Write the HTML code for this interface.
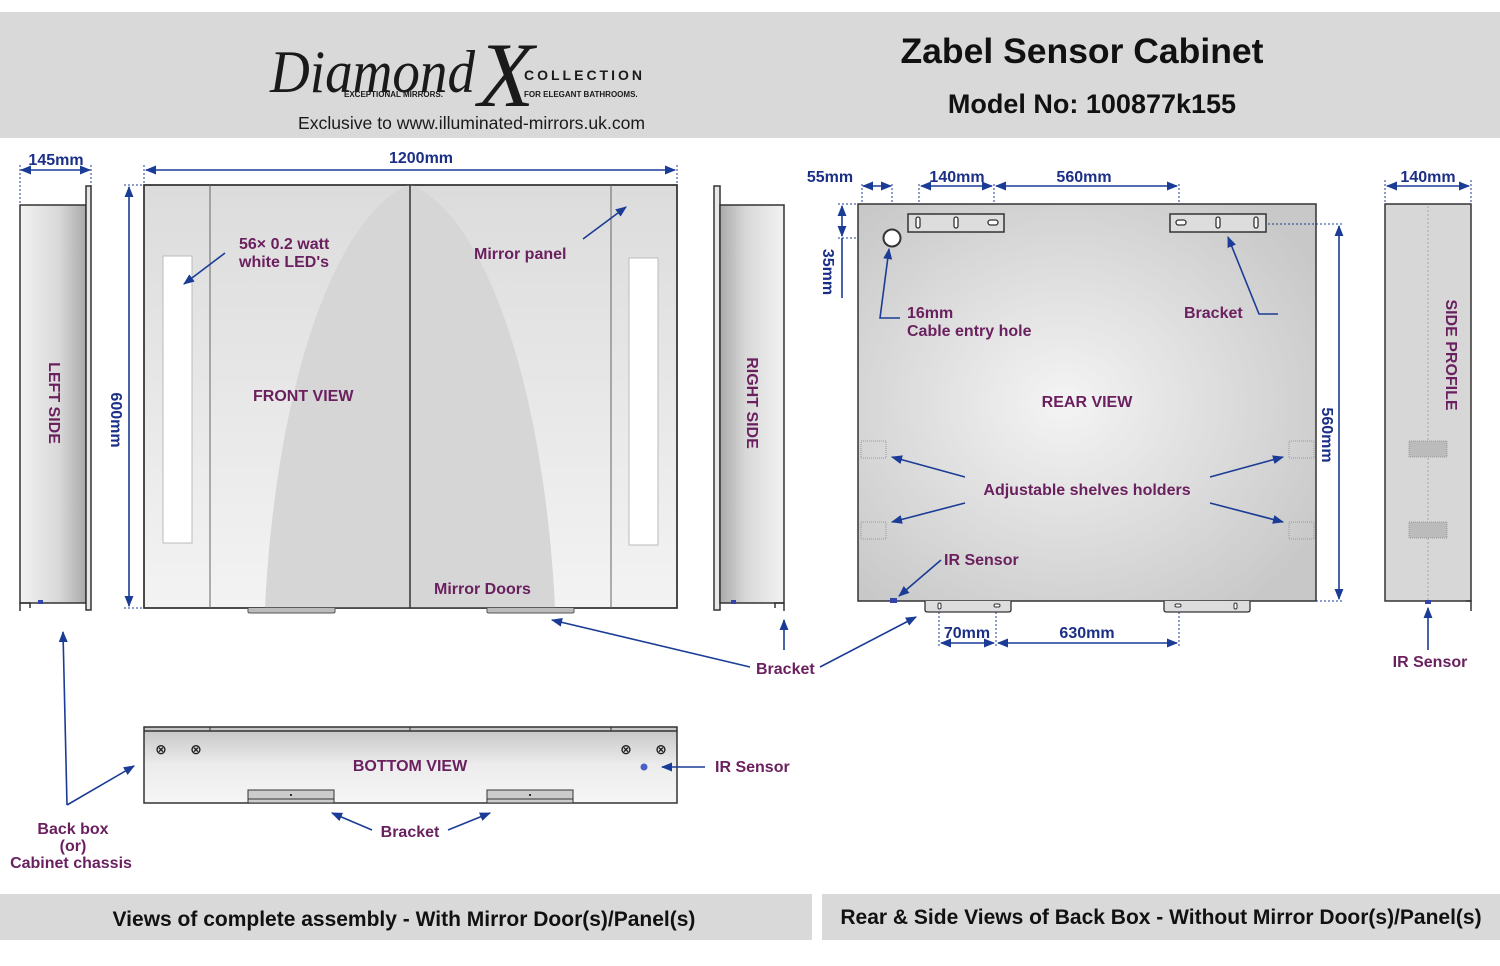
<!DOCTYPE html>
<html><head><meta charset="utf-8"><style>
html,body{margin:0;padding:0;background:#fff;width:1500px;height:966px;overflow:hidden}
svg{display:block}
.p{fill:#6a1f5e;font-family:"Liberation Sans",sans-serif;font-weight:bold;font-size:16px}
.d{fill:#1b2f86;font-family:"Liberation Sans",sans-serif;font-weight:bold;font-size:16px}
.ln{stroke:#1b3c96;stroke-width:1.6;fill:none}
.dt{stroke:#1b3c96;stroke-width:1;stroke-dasharray:2 2;fill:none}
</style></head><body>
<svg width="1500" height="966" viewBox="0 0 1500 966" xmlns="http://www.w3.org/2000/svg">
<defs>
<marker id="a" viewBox="0 0 10 10" refX="9" refY="5" markerWidth="7" markerHeight="7" orient="auto-start-reverse"><path d="M0,1 L10,5 L0,9 z" fill="#1b3c96"/></marker>
<linearGradient id="side" x1="0" x2="1"><stop offset="0" stop-color="#f2f2f2"/><stop offset="0.6" stop-color="#d8d8d8"/><stop offset="1" stop-color="#aaa"/></linearGradient>
<linearGradient id="sideR" x1="0" x2="1"><stop offset="0" stop-color="#aaa"/><stop offset="0.4" stop-color="#d8d8d8"/><stop offset="1" stop-color="#f2f2f2"/></linearGradient>
<linearGradient id="front" x1="0" y1="0" x2="0" y2="1"><stop offset="0" stop-color="#dcdcdc"/><stop offset="1" stop-color="#f3f3f3"/></linearGradient>
<radialGradient id="rear" cx="0.45" cy="0.5" r="0.65"><stop offset="0" stop-color="#f4f4f4"/><stop offset="1" stop-color="#c8c8c8"/></radialGradient>
<linearGradient id="bot" x1="0" y1="0" x2="0" y2="1"><stop offset="0" stop-color="#c4c4c4"/><stop offset="0.5" stop-color="#ececec"/><stop offset="1" stop-color="#f6f6f6"/></linearGradient>
</defs>
<!-- header -->
<rect x="0" y="12" width="1500" height="126" fill="#d9d9d9"/>
<text x="270" y="92" font-family="Liberation Serif,serif" font-style="italic" font-size="60" fill="#1a1a1a" textLength="205" lengthAdjust="spacingAndGlyphs">Diamond</text>
<text x="478" y="106" font-family="Liberation Serif,serif" font-style="italic" font-size="92" fill="#1a1a1a">X</text>
<text x="524" y="80" font-family="Liberation Sans,sans-serif" font-weight="bold" font-size="14" letter-spacing="3" fill="#1a1a1a">COLLECTION</text>
<text x="344" y="97" font-family="Liberation Sans,sans-serif" font-weight="bold" font-size="8" fill="#1a1a1a">EXCEPTIONAL MIRRORS.</text>
<text x="524" y="97" font-family="Liberation Sans,sans-serif" font-weight="bold" font-size="8" fill="#1a1a1a">FOR ELEGANT BATHROOMS.</text>
<text x="298" y="129" font-family="Liberation Sans,sans-serif" font-size="17.6" fill="#1a1a1a">Exclusive to www.illuminated-mirrors.uk.com</text>
<text x="1082" y="63" text-anchor="middle" font-family="Liberation Sans,sans-serif" font-weight="bold" font-size="35.5" fill="#111">Zabel Sensor Cabinet</text>
<text x="1092" y="113" text-anchor="middle" font-family="Liberation Sans,sans-serif" font-weight="bold" font-size="27" fill="#111">Model No: 100877k155</text>

<!-- left side -->
<line class="dt" x1="20" y1="165" x2="20" y2="205"/><line class="dt" x1="91" y1="165" x2="91" y2="186"/>
<line class="ln" x1="21" y1="170" x2="90" y2="170" marker-start="url(#a)" marker-end="url(#a)"/>
<text class="d" x="56" y="165" text-anchor="middle">145mm</text>
<rect x="20" y="205" width="66" height="398" fill="url(#side)" stroke="#333" stroke-width="1.5"/>
<rect x="86" y="186" width="5" height="424" fill="#e8e8e8" stroke="#333" stroke-width="1.5"/>
<path d="M20,603 V611 M20,603 H30 V608" stroke="#333" stroke-width="1.5" fill="none"/>
<rect x="38" y="600" width="5" height="4" fill="#3344aa"/>
<text class="p" transform="translate(49,403) rotate(90)" text-anchor="middle">LEFT SIDE</text>

<!-- front view -->
<line class="dt" x1="144" y1="165" x2="144" y2="185"/><line class="dt" x1="677" y1="165" x2="677" y2="185"/>
<line class="ln" x1="146" y1="170" x2="675" y2="170" marker-start="url(#a)" marker-end="url(#a)"/>
<text class="d" x="421" y="163" text-anchor="middle">1200mm</text>
<line class="dt" x1="124" y1="185" x2="144" y2="185"/><line class="dt" x1="124" y1="608" x2="144" y2="608"/>
<line class="ln" x1="129" y1="187" x2="129" y2="606" marker-start="url(#a)" marker-end="url(#a)"/>
<text class="d" transform="translate(111,420) rotate(90)" text-anchor="middle">600mm</text>
<rect x="144" y="185" width="533" height="423" fill="url(#front)" stroke="#333" stroke-width="1.5"/>
<path d="M265,608 C275,400 330,220 408,185 L412,185 C490,220 545,400 555,608 Z" fill="#d6d6d6"/>
<rect x="144" y="185" width="533" height="423" fill="none" stroke="#333" stroke-width="1.5"/>
<line x1="210" y1="185" x2="210" y2="608" stroke="#666" stroke-width="1"/>
<line x1="410" y1="185" x2="410" y2="608" stroke="#333" stroke-width="1.5"/>
<line x1="611" y1="185" x2="611" y2="608" stroke="#666" stroke-width="1"/>
<rect x="163" y="256" width="29" height="287" fill="#fff" stroke="#bbb"/>
<rect x="629" y="258" width="29" height="287" fill="#fff" stroke="#bbb"/>
<path d="M248,608 V612 Q248,613 250,613 H333 Q335,613 335,612 V608" fill="#bbb" stroke="#555"/>
<path d="M487,608 V612 Q487,613 489,613 H572 Q574,613 574,612 V608" fill="#bbb" stroke="#555"/>
<line class="ln" x1="225" y1="253" x2="184" y2="284" marker-end="url(#a)"/>
<text class="p" x="239" y="249">56× 0.2 watt</text>
<text class="p" x="239" y="267">white LED's</text>
<line class="ln" x1="583" y1="239" x2="626" y2="207" marker-end="url(#a)"/>
<text class="p" x="474" y="259">Mirror panel</text>
<text class="p" x="253" y="401">FRONT VIEW</text>
<text class="p" x="434" y="594">Mirror Doors</text>

<!-- right side -->
<rect x="714" y="186" width="6" height="424" fill="#e8e8e8" stroke="#333" stroke-width="1.5"/>
<rect x="720" y="205" width="64" height="398" fill="url(#sideR)" stroke="#333" stroke-width="1.5"/>
<path d="M784,603 V611 M784,603 H775 V608" stroke="#333" stroke-width="1.5" fill="none"/>
<rect x="731" y="600" width="5" height="4" fill="#3344aa"/>
<text class="p" transform="translate(747,403) rotate(90)" text-anchor="middle">RIGHT SIDE</text>
<line class="ln" x1="784" y1="650" x2="784" y2="620" marker-end="url(#a)"/>

<!-- brackets label -->
<line class="ln" x1="750" y1="667" x2="552" y2="620" marker-end="url(#a)"/>
<line class="ln" x1="820" y1="667" x2="916" y2="617" marker-end="url(#a)"/>
<text class="p" x="756" y="674">Bracket</text>

<!-- left arrow back box -->
<polyline class="ln" points="67,805 63,632" marker-end="url(#a)"/>
<line class="ln" x1="67" y1="805" x2="134" y2="766" marker-end="url(#a)"/>
<text class="p" x="73" y="834" text-anchor="middle">Back box</text>
<text class="p" x="73" y="851" text-anchor="middle">(or)</text>
<text class="p" x="71" y="868" text-anchor="middle">Cabinet chassis</text>

<!-- bottom view -->
<rect x="144" y="727" width="533" height="76" fill="url(#bot)" stroke="#333" stroke-width="1.5"/>
<line x1="144" y1="731" x2="677" y2="731" stroke="#333" stroke-width="1.5"/>
<path d="M210,727 V731 M410,727 V731 M611,727 V731" stroke="#333"/>
<g font-family="DejaVu Sans,sans-serif" font-size="14" font-weight="bold" fill="#222" text-anchor="middle">
<text x="161" y="754">⊗</text><text x="196" y="754">⊗</text><text x="626" y="754">⊗</text><text x="661" y="754">⊗</text></g>
<circle cx="644" cy="767" r="3.5" fill="#4a5fc8"/>
<rect x="248" y="790" width="86" height="13" fill="#ccc" stroke="#333"/><line x1="248" y1="799" x2="334" y2="799" stroke="#333"/>
<rect x="487" y="790" width="86" height="13" fill="#ccc" stroke="#333"/><line x1="487" y1="799" x2="573" y2="799" stroke="#333"/>
<circle cx="291" cy="795" r="1" fill="#000"/><circle cx="530" cy="795" r="1" fill="#000"/>
<text class="p" x="410" y="771" text-anchor="middle">BOTTOM VIEW</text>
<line class="ln" x1="705" y1="767" x2="662" y2="767" marker-end="url(#a)"/>
<text class="p" x="715" y="772">IR Sensor</text>
<line class="ln" x1="372" y1="830" x2="332" y2="813" marker-end="url(#a)"/>
<line class="ln" x1="448" y1="830" x2="490" y2="813" marker-end="url(#a)"/>
<text class="p" x="410" y="837" text-anchor="middle">Bracket</text>

<!-- rear view -->
<text class="d" x="830" y="182" text-anchor="middle">55mm</text>
<text class="d" x="957" y="182" text-anchor="middle">140mm</text>
<text class="d" x="1084" y="182" text-anchor="middle">560mm</text>
<line class="dt" x1="862" y1="184" x2="862" y2="204"/><line class="dt" x1="892" y1="184" x2="892" y2="230"/>
<line class="dt" x1="919" y1="184" x2="919" y2="214"/><line class="dt" x1="994" y1="184" x2="994" y2="214"/><line class="dt" x1="1179" y1="184" x2="1179" y2="214"/>
<line class="ln" x1="863" y1="186" x2="891" y2="186" marker-start="url(#a)" marker-end="url(#a)"/>
<line class="ln" x1="921" y1="186" x2="992" y2="186" marker-start="url(#a)" marker-end="url(#a)"/>
<line class="ln" x1="996" y1="186" x2="1177" y2="186" marker-start="url(#a)" marker-end="url(#a)"/>
<line class="dt" x1="838" y1="204" x2="858" y2="204"/><line class="dt" x1="838" y1="238" x2="884" y2="238"/>
<line class="ln" x1="842" y1="206" x2="842" y2="236" marker-start="url(#a)" marker-end="url(#a)"/>
<line class="ln" x1="842" y1="238" x2="842" y2="298"/>
<text class="d" transform="translate(823,272) rotate(90)" text-anchor="middle">35mm</text>
<rect x="858" y="204" width="458" height="397" fill="url(#rear)" stroke="#333" stroke-width="1.5"/>
<rect x="908" y="214" width="96" height="18" fill="#ddd" stroke="#333" stroke-width="1.5"/>
<rect x="1170" y="214" width="96" height="18" fill="#ddd" stroke="#333" stroke-width="1.5"/>
<g fill="#fff" stroke="#333" stroke-width="1.3">
<rect x="916" y="217" width="4" height="11" rx="2"/><rect x="954" y="217" width="4" height="11" rx="2"/><rect x="988" y="220" width="10" height="5" rx="2.5"/>
<rect x="1176" y="220" width="10" height="5" rx="2.5"/><rect x="1216" y="217" width="4" height="11" rx="2"/><rect x="1254" y="217" width="4" height="11" rx="2"/></g>
<circle cx="892" cy="238" r="8.5" fill="#fff" stroke="#333" stroke-width="2"/>
<polyline class="ln" points="900,318 880,318 889,249" marker-end="url(#a)"/>
<text class="p" x="907" y="318">16mm</text>
<text class="p" x="907" y="336">Cable entry hole</text>
<polyline class="ln" points="1278,314 1259,314 1228,237" marker-end="url(#a)"/>
<text class="p" x="1184" y="318">Bracket</text>
<text class="p" x="1087" y="407" text-anchor="middle">REAR VIEW</text>
<g fill="none" stroke="#999" stroke-dasharray="1 1">
<rect x="861" y="441" width="25" height="17"/><rect x="861" y="522" width="25" height="17"/>
<rect x="1289" y="441" width="25" height="17"/><rect x="1289" y="522" width="25" height="17"/></g>
<line class="ln" x1="965" y1="477" x2="892" y2="457" marker-end="url(#a)"/>
<line class="ln" x1="965" y1="503" x2="892" y2="522" marker-end="url(#a)"/>
<line class="ln" x1="1210" y1="477" x2="1283" y2="457" marker-end="url(#a)"/>
<line class="ln" x1="1210" y1="503" x2="1283" y2="522" marker-end="url(#a)"/>
<text class="p" x="1087" y="495" text-anchor="middle">Adjustable shelves holders</text>
<rect x="890" y="598" width="7" height="5" fill="#3344aa"/>
<line class="ln" x1="941" y1="560" x2="899" y2="596" marker-end="url(#a)"/>
<text class="p" x="944" y="565">IR Sensor</text>
<path d="M925,601 V610 Q925,612 928,612 H1008 Q1011,612 1011,610 V601" fill="#ddd" stroke="#333" stroke-width="1.3"/>
<path d="M1164,601 V610 Q1164,612 1167,612 H1247 Q1250,612 1250,610 V601" fill="#ddd" stroke="#333" stroke-width="1.3"/>
<g fill="#fff" stroke="#333"><rect x="938" y="603" width="3" height="6" rx="1.5"/><rect x="994" y="604" width="6" height="3" rx="1.5"/><rect x="1175" y="604" width="6" height="3" rx="1.5"/><rect x="1234" y="603" width="3" height="6" rx="1.5"/></g>
<line class="dt" x1="939" y1="612" x2="939" y2="648"/><line class="dt" x1="996" y1="612" x2="996" y2="648"/><line class="dt" x1="1179" y1="612" x2="1179" y2="648"/>
<line class="ln" x1="941" y1="643" x2="994" y2="643" marker-start="url(#a)" marker-end="url(#a)"/>
<line class="ln" x1="998" y1="643" x2="1177" y2="643" marker-start="url(#a)" marker-end="url(#a)"/>
<text class="d" x="967" y="638" text-anchor="middle">70mm</text>
<text class="d" x="1087" y="638" text-anchor="middle">630mm</text>
<line class="dt" x1="1268" y1="224" x2="1344" y2="224"/><line class="dt" x1="1316" y1="601" x2="1344" y2="601"/>
<line class="ln" x1="1339" y1="226" x2="1339" y2="599" marker-start="url(#a)" marker-end="url(#a)"/>
<text class="d" transform="translate(1322,435) rotate(90)" text-anchor="middle">560mm</text>

<!-- side profile -->
<line class="dt" x1="1385" y1="180" x2="1385" y2="204"/><line class="dt" x1="1471" y1="180" x2="1471" y2="204"/>
<line class="ln" x1="1387" y1="186" x2="1469" y2="186" marker-start="url(#a)" marker-end="url(#a)"/>
<text class="d" x="1428" y="182" text-anchor="middle">140mm</text>
<rect x="1385" y="204" width="86" height="397" fill="#d7d7d7" stroke="#333" stroke-width="1.5"/>
<line x1="1428" y1="206" x2="1428" y2="600" stroke="#aaa" stroke-dasharray="2 2"/>
<rect x="1409" y="441" width="38" height="16" fill="#bbb" stroke="#999" stroke-dasharray="1 1"/>
<rect x="1409" y="522" width="38" height="16" fill="#bbb" stroke="#999" stroke-dasharray="1 1"/>
<path d="M1466,601 H1471 V611" stroke="#333" stroke-width="1.5" fill="none"/>
<rect x="1425" y="600" width="6" height="4" fill="#3344aa"/>
<text class="p" transform="translate(1446,355) rotate(90)" text-anchor="middle">SIDE PROFILE</text>
<line class="ln" x1="1428" y1="650" x2="1428" y2="608" marker-end="url(#a)"/>
<text class="p" x="1430" y="667" text-anchor="middle">IR Sensor</text>

<!-- footers -->
<rect x="0" y="894" width="812" height="46" fill="#d9d9d9"/>
<rect x="822" y="894" width="678" height="46" fill="#d9d9d9"/>
<text x="404" y="926" text-anchor="middle" font-family="Liberation Sans,sans-serif" font-weight="bold" font-size="21" fill="#111">Views of complete assembly - With Mirror Door(s)/Panel(s)</text>
<text x="1161" y="924" text-anchor="middle" font-family="Liberation Sans,sans-serif" font-weight="bold" font-size="21" fill="#111">Rear &amp; Side Views of Back Box - Without Mirror Door(s)/Panel(s)</text>
</svg>
</body></html>
